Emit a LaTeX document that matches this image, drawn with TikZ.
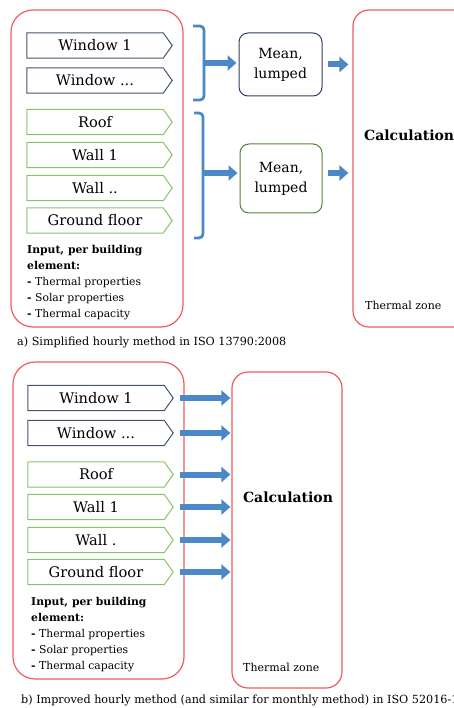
\documentclass[tikz,border=0pt]{standalone}
\usepackage{fontspec}
\setmainfont{DejaVu Serif}
\usetikzlibrary{calc,arrows.meta}
\definecolor{zred}{RGB}{240,92,92}
\definecolor{zblue}{RGB}{74,136,200}
\definecolor{wslate}{RGB}{68,84,106}
\definecolor{lgreen}{RGB}{134,196,104}
\definecolor{dgreen}{RGB}{84,130,53}
\definecolor{dblue}{RGB}{47,62,100}
\newcommand{\elemoutline}[2]{\draw[#2, line width=1pt] (#1.north west) -- (#1.north east) -- ($(#1.east)+(9,0)$) -- (#1.south east) -- (#1.south west) -- cycle;}
\begin{document}
\begin{tikzpicture}[x=1pt,y=-1pt,
  zone/.style={draw=zred, line width=1.2pt, rounded corners=#1, inner sep=0pt},
  zone/.default=22pt,
  elem/.style={minimum width=136pt, minimum height=25pt, inner sep=0pt, font=\fontsize{14.6}{16}\selectfont},
  meanbox/.style={draw=#1, line width=1pt, rounded corners=9pt, inner sep=0pt, align=center, font=\fontsize{14}{20}\selectfont},
  blockarr/.style={zblue, line width=6pt, -{Triangle[length=9pt,width=15pt]}},
  bracestyle/.style={zblue, line width=2.8pt, rounded corners=4pt},
  infotext/.style={anchor=north west, inner sep=0pt, align=left, font=\fontsize{10.8}{16}\selectfont},
  capt/.style={anchor=west, inner sep=0pt, font=\fontsize{11.2}{12}\selectfont},
  calc/.style={inner sep=0pt, font=\fontsize{14}{16}\selectfont\bfseries},
  zonelabel/.style={anchor=west, inner sep=0pt, font=\fontsize{11}{12}\selectfont}
]
\useasboundingbox (0,0) rectangle (453,708);

% ---------- a) ----------
\node[zone, minimum width=172pt, minimum height=317pt] (in1) at (97,168.5) {};
\node[zone=16pt, minimum width=117pt, minimum height=317pt] (tz1) at (411.5,168.5) {};

\node[elem] (aw1) at (95,45.5) {Window 1};
\node[elem] (aw2) at (95,80.5) {Window ...};
\node[elem] (ar) at (95,122) {Roof};
\node[elem] (awa1) at (95,155) {Wall 1};
\node[elem] (awa2) at (95,188) {Wall ..};
\node[elem] (ag) at (95,220.5) {Ground floor};
\elemoutline{aw1}{wslate}
\elemoutline{aw2}{wslate}
\elemoutline{ar}{lgreen}
\elemoutline{awa1}{lgreen}
\elemoutline{awa2}{lgreen}
\elemoutline{ag}{lgreen}

\node[infotext] (ainfo) at (27,245) {\textbf{Input, per building}\\\textbf{element:}\\\textbf{-} Thermal properties\\\textbf{-} Solar properties\\\textbf{-} Thermal capacity};

\node[meanbox=dblue, minimum width=83pt, minimum height=63pt] (m1) at (280.5,64.5) {Mean,\\lumped};
\node[meanbox=dgreen, minimum width=82pt, minimum height=69pt] (m2) at (281,178.5) {Mean,\\lumped};

\coordinate (n1) at (204,63);
\coordinate (n2) at (203,173);
\draw[bracestyle] (193,26) -- (204,26) -- (204,100) -- (193,100);
\draw[bracestyle] (194,113) -- (203,113) -- (203,238) -- (194,238);
\draw[blockarr] (n1) -- ($(n1 -| m1.west)+(-2,0)$);
\draw[blockarr] (n2) -- ($(n2 -| m2.west)+(-2,0)$);
\draw[blockarr] ($(m1.east)+(5,0)$) -- ($(m1.east -| tz1.west)+(-4,0)$);
\draw[blockarr] ($(n2 -| m2.east)+(5,0)$) -- ($(n2 -| tz1.west)+(-4,0)$);

\node[calc, anchor=west] (acalc) at (364,135) {Calculation};
\node[zonelabel] (azl) at (365,305) {Thermal zone};

\node[capt] (capa) at (17,342) {a) Simplified hourly method in ISO 13790:2008};

% ---------- b) ----------
\node[zone, minimum width=171pt, minimum height=317pt] (in2) at (98.5,520.5) {};
\node[zone=16pt, minimum width=110pt, minimum height=316pt] (tz2) at (287,530) {};

\node[elem] (bw1) at (96,398) {Window 1};
\node[elem] (bw2) at (96,433) {Window ...};
\node[elem] (br) at (96,474.5) {Roof};
\node[elem] (bwa1) at (96,507) {Wall 1};
\node[elem] (bwa2) at (96,540) {Wall .};
\node[elem] (bg) at (96,572) {Ground floor};
\elemoutline{bw1}{wslate}
\elemoutline{bw2}{wslate}
\elemoutline{br}{lgreen}
\elemoutline{bwa1}{lgreen}
\elemoutline{bwa2}{lgreen}
\elemoutline{bg}{lgreen}

\foreach \e in {bw1,bw2,br,bwa1,bwa2,bg}{
  \draw[blockarr] ($(\e.east)+(16,0)$) -- ($(\e.east -| tz2.west)+(-1,0)$);
}

\node[infotext] (binfo) at (31,597) {\textbf{Input, per building}\\\textbf{element:}\\\textbf{-} Thermal properties\\\textbf{-} Solar properties\\\textbf{-} Thermal capacity};

\node[calc] (bcalc) at (288,497) {Calculation};
\node[zonelabel] (bzl) at (243,667) {Thermal zone};

\node[capt] (capb) at (21,700) {b) Improved hourly method (and similar for monthly method) in ISO 52016-1};
\end{tikzpicture}
\end{document}
